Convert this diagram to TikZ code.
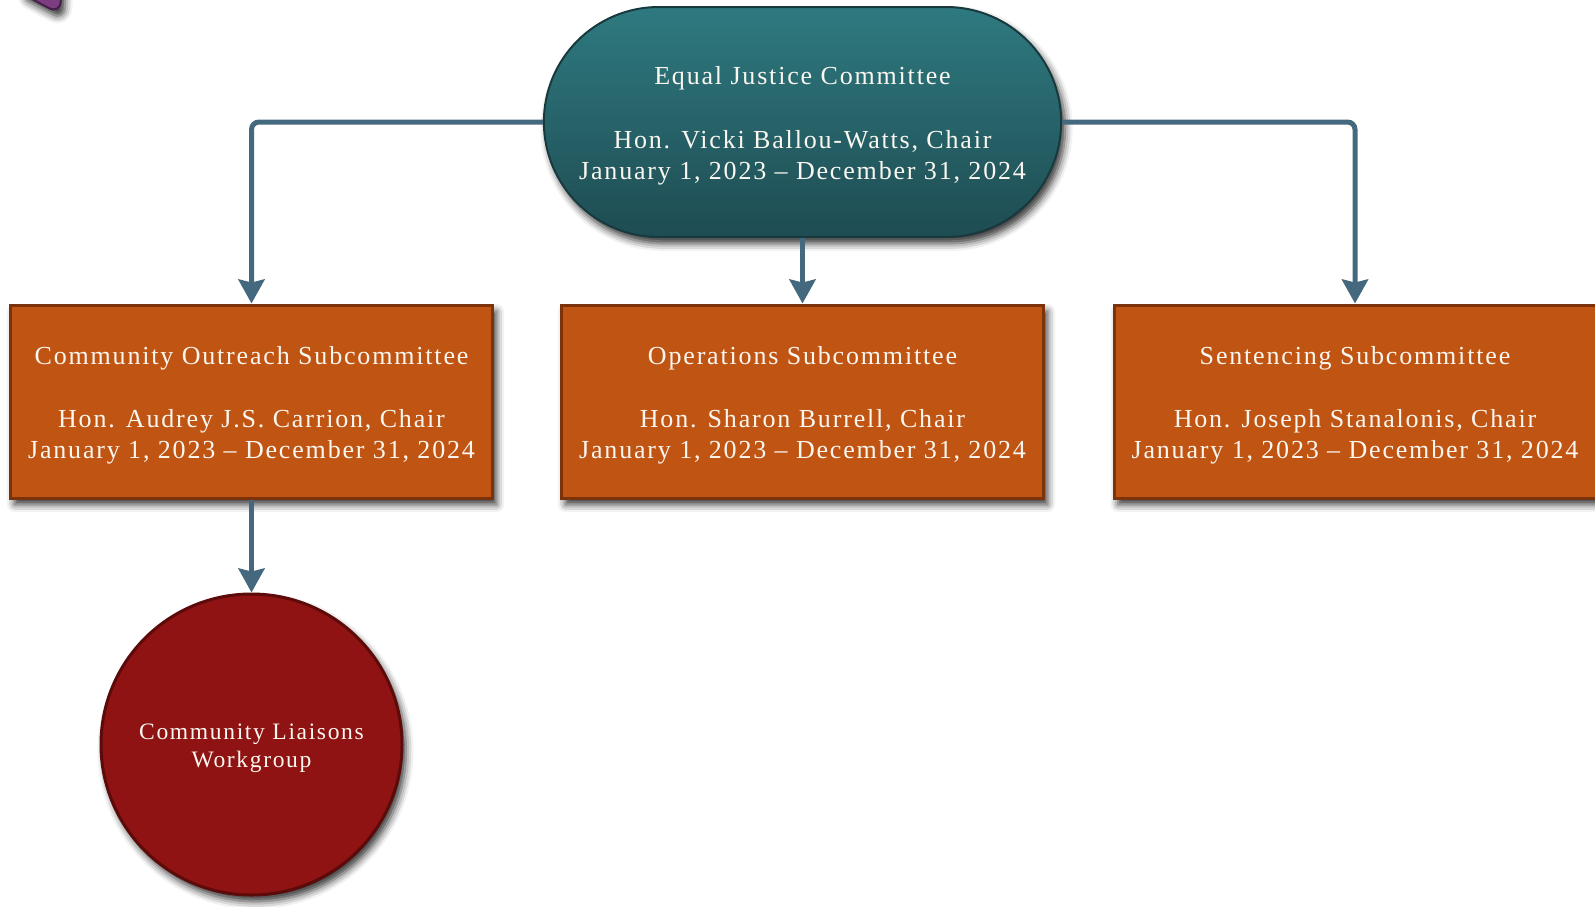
\documentclass[tikz,border=0pt]{standalone}
\usepackage{fontspec}
\setmainfont{Liberation Serif}[LetterSpace=7]
\usepackage{xcolor}
\usepackage{tikz}
\usetikzlibrary{positioning}
\usetikzlibrary{shapes,arrows.meta}
\usetikzlibrary{shadows,shadows.blur}
\definecolor{tealtop}{RGB}{46,122,128}
\definecolor{tealbot}{RGB}{30,76,82}
\definecolor{tealline}{RGB}{24,58,62}
\definecolor{boxfill}{RGB}{192,84,18}
\definecolor{boxline}{RGB}{124,50,10}
\definecolor{groupfill}{RGB}{142,19,18}
\definecolor{groupline}{RGB}{92,10,10}
\definecolor{linkblue}{RGB}{68,104,125}
\definecolor{leaffill}{RGB}{124,62,128}
\definecolor{leafline}{RGB}{70,30,75}
\definecolor{textwhite}{RGB}{250,246,240}
\newcommand{\boxfont}{\fontsize{14.8pt}{17.6pt}\selectfont}
\newcommand{\groupfont}{\fontsize{13.4pt}{15.9pt}\selectfont}
\newcommand{\headstrut}[1]{\rule{0pt}{#1}} % pushes the text a little down
\tikzset{%
  shade/.style     = {blur shadow={shadow xshift=0.08cm, shadow yshift=-0.13cm,
    shadow blur radius=0.15cm, shadow opacity=80}},
  block/.style     = {draw=boxline, line width=0.06cm, rectangle, fill=boxfill,
    minimum height=3.86cm, minimum width=9.64cm, text=textwhite,
    align=center, font=\boxfont, shade}, % Subcommittee
  committee/.style = {draw=tealline, line width=0.04cm, rounded rectangle,
    top color=tealtop, bottom color=tealbot, minimum height=4.6cm,
    minimum width=10.58cm, text=textwhite, align=center, font=\boxfont,
    shade}, % Committee
  group/.style     = {draw=groupline, line width=0.06cm, circle, fill=groupfill,
    minimum size=6.02cm, text=textwhite, align=center, font=\groupfont,
    shade}, % Workgroup
  link/.style      = {->, draw=linkblue, line width=0.1cm, rounded corners=0.15cm}
}

\begin{document}
\begin{tikzpicture}[node distance=5cm, >={Stealth[length=0.48cm, width=0.52cm, inset=0.06cm]}]

	\useasboundingbox (0,0) rectangle (31.9,-18.12);

	% corner of the shape above
	\path[fill=leaffill, draw=leafline, line width=0.04cm, shade, rounded corners=0.25cm]
		(0.3,0.2) -- (1.2,-0.28) -- (1.24,0.4) -- cycle;

	\draw node at (16.05,-2.44) [committee] (ejc) {\headstrut{14.5pt}Equal Justice Committee\\[18.7pt]Hon. Vicki Ballou-Watts, Chair\\January 1, 2023 -- December 31, 2024};

	\draw node [block, below of=ejc, node distance = 5.59cm] (ops) {\headstrut{14.5pt}Operations Subcommittee\\[18.7pt]Hon. Sharon Burrell, Chair\\January 1, 2023 -- December 31, 2024};
	\draw node [block, left of=ops, node distance = 11.02cm] (cos) {\headstrut{14.5pt}Community Outreach Subcommittee\\[18.7pt]Hon. Audrey J.S. Carrion, Chair\\January 1, 2023 -- December 31, 2024};
	\draw node [block, right of=ops, node distance = 11.05cm] (sent) {\headstrut{14.5pt}Sentencing Subcommittee\\[18.7pt]Hon. Joseph Stanalonis, Chair\\January 1, 2023 -- December 31, 2024};

	\draw node [group, below of=cos, node distance = 6.86cm] (clw) {\headstrut{13pt}Community Liaisons\\Workgroup};

	\draw[link] (ejc.west) -| (cos.north);
	\draw[link] (ejc.south) -- (ops.north);
	\draw[link] (ejc.east) -| (sent.north);

	\draw[link] (cos.south) -- (clw.north);

\end{tikzpicture}
\end{document}
